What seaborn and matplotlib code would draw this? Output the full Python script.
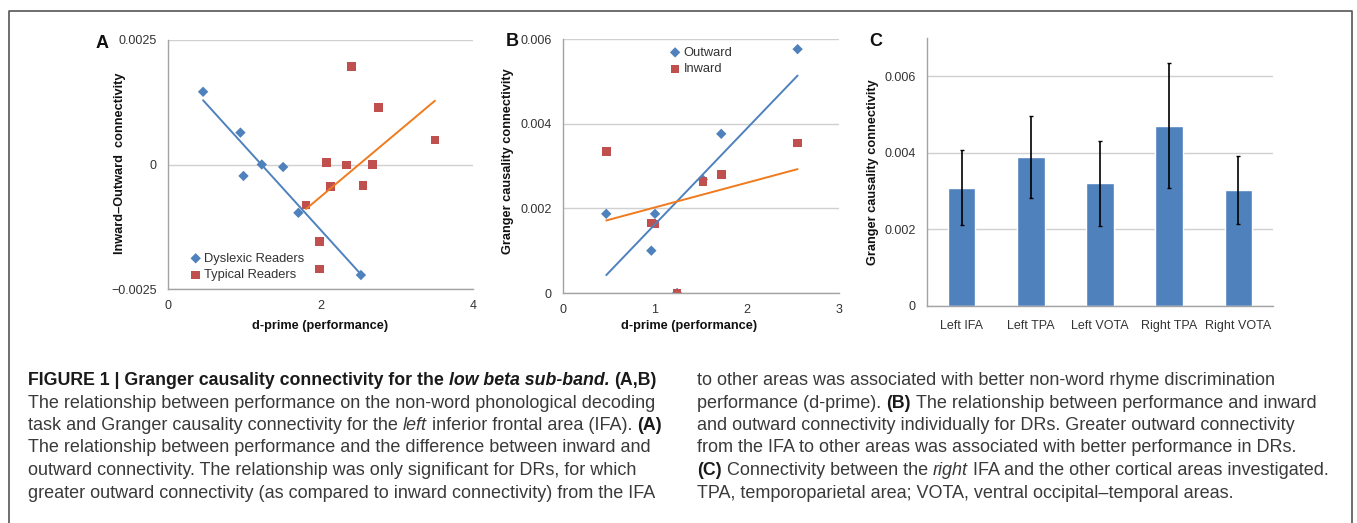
import matplotlib
matplotlib.use('Agg')
import matplotlib.pyplot as plt
import seaborn as sns
import numpy as np

sns.set_style('white')
plt.rcParams['font.family'] = ['Liberation Sans', 'DejaVu Sans']

# ---- data ----
# A: inward - outward connectivity vs d-prime
dr_dprime_a = [0.46, 0.95, 0.99, 1.23, 1.51, 1.71, 2.53]
dr_diff = [0.00146, 0.00064, -0.00023, 0.0, -0.00005, -0.00097, -0.00222]
tr_dprime = [2.41, 2.76, 3.50, 2.08, 2.34, 2.68, 2.13, 2.56, 1.81, 1.99, 1.99]
tr_diff = [0.00197, 0.00115, 0.00049, 0.00004, -0.00001, 0.0,
           -0.00044, -0.00042, -0.00081, -0.00155, -0.00210]
a_yticks = [-0.0025, 0, 0.0025]
a_yticklabels = ['\u22120.0025', '0', '0.0025']
a_xticks = [0, 2, 4]

# B: outward / inward connectivity for DRs
dr_dprime_b = [0.47, 0.96, 1.00, 1.24, 1.52, 1.72, 2.55]
outward = [0.00187, 0.00100, 0.00187, 0.0, 0.00268, 0.00376, 0.00576]
inward = [0.00334, 0.00165, 0.00163, 0.0, 0.00263, 0.00280, 0.00354]
b_yticks = [0, 0.002, 0.004, 0.006]
b_yticklabels = ['0', '0.002', '0.004', '0.006']
b_xticks = [0, 1, 2, 3]

# C: right IFA connectivity
areas = ['Left IFA', 'Left TPA', 'Left VOTA', 'Right TPA', 'Right VOTA']
conn_mean = [0.00309, 0.00389, 0.00321, 0.00471, 0.00303]
conn_err = [0.00098, 0.00107, 0.00111, 0.00164, 0.00088]
c_yticks = [0, 0.002, 0.004, 0.006]
c_yticklabels = ['0', '0.002', '0.004', '0.006']

BLUE = '#4F81BD'
RED = '#C0504D'
ORANGE = '#F07A1C'
GRID = '#D0D0D0'
SPINE = '#A3A3A3'
TXT = '#333333'

W, H = 1357, 523
fig = plt.figure(figsize=(W / 100, H / 100), dpi=100)


def box(l, t, r, b):
    return [l / W, 1 - b / H, (r - l) / W, (b - t) / H]


def style(ax):
    for s in ['top', 'right']:
        ax.spines[s].set_visible(False)
    for s in ['left', 'bottom']:
        ax.spines[s].set_color(SPINE)
        ax.spines[s].set_linewidth(1)
    ax.grid(axis='y', color=GRID, lw=1)
    ax.grid(axis='x', visible=False)
    ax.set_axisbelow(True)
    ax.tick_params(colors=SPINE, labelcolor=TXT, labelsize=9, length=3, width=1)
    ax.tick_params(axis='y', pad=5)
    ax.tick_params(axis='x', pad=5)


lab = dict(fontsize=9.2, fontweight='bold', color='#111111')
leg = dict(frameon=False, fontsize=9.3, handletextpad=0.05, handlelength=1.2,
           labelspacing=0.35, borderaxespad=0.2, labelcolor=TXT)

# ---- panel A ----
axA = fig.add_axes(box(168, 40, 473, 289))
sns.scatterplot(x=dr_dprime_a, y=dr_diff, marker='D', s=28, color=BLUE,
                edgecolor='none', label='Dyslexic Readers', ax=axA)
sns.scatterplot(x=tr_dprime, y=tr_diff, marker='s', s=38, color=RED,
                edgecolor='none', label='Typical Readers', ax=axA)
sns.regplot(x=dr_dprime_a, y=dr_diff, scatter=False, ci=None, truncate=True,
            color=BLUE, line_kws=dict(lw=1.4), ax=axA)
sns.regplot(x=tr_dprime, y=tr_diff, scatter=False, ci=None, truncate=True,
            color=ORANGE, line_kws=dict(lw=1.4), ax=axA)
axA.set_xlim(0, 4)
axA.set_ylim(-0.0025, 0.0025)
axA.set_yticks(a_yticks, labels=a_yticklabels)
axA.set_xticks(a_xticks)
style(axA)
axA.set_xlabel('d-prime (performance)', va='center', **lab)
axA.xaxis.set_label_coords(0.5, -0.149)
axA.set_ylabel('Inward\u2013Outward  connectivity', va='center', **lab)
axA.yaxis.set_label_coords(-0.157, 0.506)
axA.legend(loc='lower left', bbox_to_anchor=(0.04, 0.0), **leg)

# ---- panel B ----
axB = fig.add_axes(box(563, 39, 839, 293))
sns.scatterplot(x=dr_dprime_b, y=outward, marker='D', s=28, color=BLUE,
                edgecolor='none', label='Outward', ax=axB)
sns.scatterplot(x=dr_dprime_b, y=inward, marker='s', s=38, color=RED,
                edgecolor='none', label='Inward', ax=axB)
sns.regplot(x=dr_dprime_b, y=outward, scatter=False, ci=None, truncate=True,
            color=BLUE, line_kws=dict(lw=1.4), ax=axB)
sns.regplot(x=dr_dprime_b, y=inward, scatter=False, ci=None, truncate=True,
            color=ORANGE, line_kws=dict(lw=1.4), ax=axB)
axB.set_xlim(0, 3)
axB.set_ylim(0, 0.006)
axB.set_yticks(b_yticks, labels=b_yticklabels)
axB.set_xticks(b_xticks)
style(axB)
axB.set_xlabel('d-prime (performance)', va='center', **lab)
axB.xaxis.set_label_coords(0.457, -0.13)
axB.set_ylabel('Granger causality connectivity', va='center', **lab)
axB.yaxis.set_label_coords(-0.199, 0.52)
axB.legend(loc='upper left', bbox_to_anchor=(0.35, 1.0), **leg)

# ---- panel C ----
axC = fig.add_axes(box(927, 38, 1273, 306))
sns.barplot(x=areas, y=conn_mean, color=BLUE, saturation=1, width=0.4,
            errorbar=None, ax=axC)
axC.errorbar(x=np.arange(len(areas)), y=conn_mean, yerr=conn_err, fmt='none',
             ecolor='black', elinewidth=1.2, capsize=1.5, capthick=1)
axC.set_ylim(0, 0.007)
axC.set_xlim(-0.5, len(areas) - 0.5)
axC.set_yticks(c_yticks, labels=c_yticklabels)
style(axC)
axC.set_xticks(np.arange(len(areas) + 1) - 0.5, minor=True)
axC.tick_params(axis='x', which='major', length=0, pad=10)
axC.tick_params(axis='x', which='minor', length=4, colors=SPINE)
axC.set_xlabel('')
axC.set_ylabel('Granger causality connectivity', va='center', **lab)
axC.yaxis.set_label_coords(-0.156, 0.5)

# panel letters
for letter, px, py in [('A', 102, 43), ('B', 512, 41), ('C', 876, 41)]:
    fig.text(px / W, 1 - py / H, letter, fontsize=13, fontweight='bold',
             ha='center', va='center', color='#111111')

# ---- caption ----
renderer = fig.canvas.get_renderer()
cap_font = ['Liberation Sans', 'DejaVu Sans']
fs = 12.95
fsb = 12.8
styles = {
    'n': dict(fontsize=fs, color='#3a3a3a', family=cap_font),
    'i': dict(fontsize=fs, color='#3a3a3a', family=cap_font, fontstyle='italic'),
    'b': dict(fontsize=fsb, color='#1a1a1a', family=cap_font, fontweight='bold'),
    'bi': dict(fontsize=fsb, color='#1a1a1a', family=cap_font,
               fontweight='bold', fontstyle='italic'),
}


def width(s, kw):
    t = fig.text(0, 0, s, **kw)
    w = t.get_window_extent(renderer).width
    t.remove()
    return w


space_w = {k: width('a a', kw) - width('aa', kw) for k, kw in styles.items()}


def caption_line(x, y, parts):
    for s, st in parts:
        kw = styles[st]
        core = s.strip(' ')
        x += (len(s) - len(s.lstrip(' '))) * space_w[st]
        t = fig.text(x / W, 1 - y / H, core, ha='left', va='baseline', **kw)
        x += t.get_window_extent(renderer).width
        x += (len(s) - len(s.rstrip(' '))) * space_w[st]


left_lines = [
    [('FIGURE 1 | Granger causality connectivity for the ', 'b'), ('low beta sub-band.', 'bi'),
     (' (A,B)', 'b')],
    [('The relationship between performance on the non-word phonological decoding', 'n')],
    [('task and Granger causality connectivity for the ', 'n'), ('left', 'i'),
     (' inferior frontal area (IFA). ', 'n'), ('(A)', 'b')],
    [('The relationship between performance and the difference between inward and', 'n')],
    [('outward connectivity. The relationship was only significant for DRs, for which', 'n')],
    [('greater outward connectivity (as compared to inward connectivity) from the IFA', 'n')],
]
right_lines = [
    [('to other areas was associated with better non-word rhyme discrimination', 'n')],
    [('performance (d-prime). ', 'n'), ('(B)', 'b'),
     (' The relationship between performance and inward', 'n')],
    [('and outward connectivity individually for DRs. Greater outward connectivity', 'n')],
    [('from the IFA to other areas was associated with better performance in DRs.', 'n')],
    [('(C)', 'b'), (' Connectivity between the ', 'n'), ('right', 'i'),
     (' IFA and the other cortical areas investigated.', 'n')],
    [('TPA, temporoparietal area; VOTA, ventral occipital\u2013temporal areas.', 'n')],
]
for i, parts in enumerate(left_lines):
    caption_line(28, 385 + 22.5 * i, parts)
for i, parts in enumerate(right_lines):
    caption_line(697, 385 + 22.5 * i, parts)

# frame round the figure
fig.add_artist(plt.Line2D([9 / W, 9 / W, 1352 / W, 1352 / W], [0, 1 - 11 / H, 1 - 11 / H, 0],
                          color='#555555', lw=1.2))

fig.savefig('out.png', dpi=100)
